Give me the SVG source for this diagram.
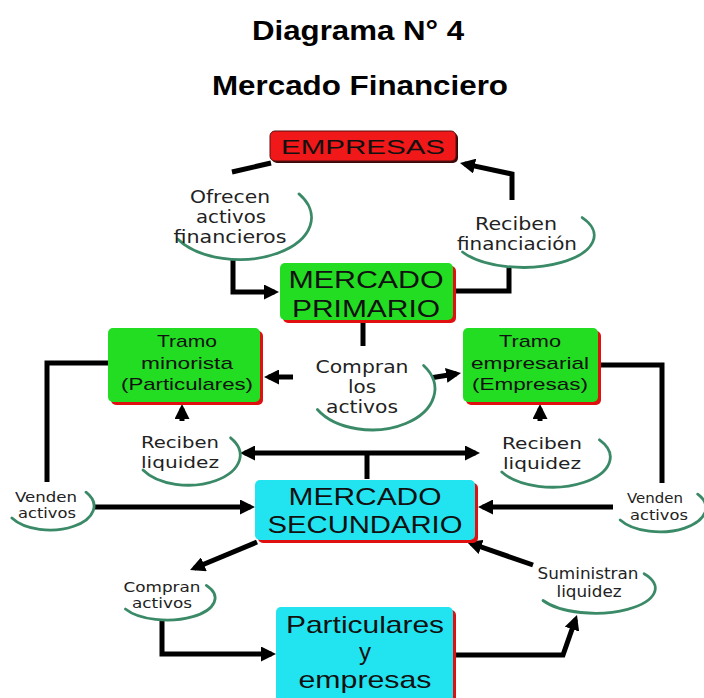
<svg xmlns="http://www.w3.org/2000/svg" width="704" height="698" viewBox="0 0 704 698">
<defs>
<marker id="ah" viewBox="0 0 10 10" refX="7" refY="5" markerWidth="3" markerHeight="3" orient="auto"><path d="M0,0 L10,5 L0,10 z" fill="#000"/></marker>
<marker id="ahs" viewBox="0 0 10 10" refX="7" refY="5" markerWidth="3" markerHeight="3" orient="auto-start-reverse"><path d="M0,0 L10,5 L0,10 z" fill="#000"/></marker>
</defs>
<style>
.title{font-family:"Liberation Sans",Arial,sans-serif;font-weight:bold;font-size:28px;fill:#000;text-anchor:middle}
.bx{font-family:"Liberation Sans",Arial,sans-serif;fill:#111;text-anchor:middle}
.bt{font-family:"DejaVu Sans",Verdana,sans-serif;fill:#222;text-anchor:middle}
.con{fill:none;stroke:#000;stroke-width:5;stroke-linejoin:miter}
.arc{fill:none;stroke:#3a8a68;stroke-width:2.8;stroke-linecap:round}
.bub{fill:#fff}
.sh{fill:#e01010}
</style>
<rect width="704" height="698" fill="#fff"/>
<text class="title" x="358" y="40" textLength="212" lengthAdjust="spacingAndGlyphs">Diagrama N° 4</text>
<text class="title" x="360" y="95" textLength="296" lengthAdjust="spacingAndGlyphs">Mercado Financiero</text>

<g id="connectors">
<path class="con" d="M232,172 L271,163"/>
<path class="con" d="M233,260 V292 H274.5" marker-end="url(#ah)"/>
<path class="con" d="M455,291 H509 V268"/>
<path class="con" d="M512,200 V174 L464.4,163.9" marker-end="url(#ah)"/>
<path class="con" d="M363,322 V346"/>
<path class="con" d="M293,377 H268.5" marker-end="url(#ah)"/>
<path class="con" d="M430,378 L456.6,373.7" marker-end="url(#ah)"/>
<path class="con" d="M182,421 V408.5" marker-end="url(#ah)"/>
<path class="con" d="M540,421 V408.5" marker-end="url(#ah)"/>
<path class="con" d="M244.5,453 H475.5" marker-start="url(#ahs)" marker-end="url(#ah)"/>
<path class="con" d="M367,453 V479"/>
<path class="con" d="M108,363 H47 V482"/>
<path class="con" d="M93,507 H250.5" marker-end="url(#ah)"/>
<path class="con" d="M601,365 H662 V483"/>
<path class="con" d="M613,507 H482.5" marker-end="url(#ah)"/>
<path class="con" d="M257,542 L194.2,568.3" marker-end="url(#ah)"/>
<path class="con" d="M162,620 V654 H271.5" marker-end="url(#ah)"/>
<path class="con" d="M456,655 H563 L575.5,619.2" marker-end="url(#ah)"/>
<path class="con" d="M533,565 L471.2,543.5" marker-end="url(#ah)"/>
</g>

<g id="empresas">
<rect x="272" y="133" width="186" height="30" rx="5" fill="#3a0808"/>
<rect x="270" y="131" width="186" height="30" rx="5" fill="#f01818" stroke="#5a1010" stroke-width="1"/>
<text class="bx" x="363" y="154" font-size="21" fill="#2a0808" textLength="164" lengthAdjust="spacingAndGlyphs">EMPRESAS</text>
</g>

<g id="mercado-primario">
<rect class="sh" x="283" y="266" width="173" height="57" rx="5"/>
<rect x="280" y="263" width="173" height="57" rx="5" fill="#22dd22"/>
<text class="bx" x="366" y="288" font-size="24" textLength="155" lengthAdjust="spacingAndGlyphs">MERCADO</text>
<text class="bx" x="366" y="317" font-size="24" textLength="148" lengthAdjust="spacingAndGlyphs">PRIMARIO</text>
</g>

<g id="tramo-minorista">
<rect class="sh" x="111" y="331" width="152" height="74" rx="5"/>
<rect x="108" y="328" width="152" height="74" rx="5" fill="#22dd22"/>
<text class="bx" x="187" y="347" font-size="17" textLength="60" lengthAdjust="spacingAndGlyphs">Tramo</text>
<text class="bx" x="187" y="369" font-size="17" textLength="92" lengthAdjust="spacingAndGlyphs">minorista</text>
<text class="bx" x="187" y="390" font-size="17" textLength="132" lengthAdjust="spacingAndGlyphs">(Particulares)</text>
</g>

<g id="tramo-empresarial">
<rect class="sh" x="466" y="331" width="135" height="74" rx="5"/>
<rect x="463" y="328" width="135" height="74" rx="5" fill="#22dd22"/>
<text class="bx" x="530" y="347" font-size="17" textLength="62" lengthAdjust="spacingAndGlyphs">Tramo</text>
<text class="bx" x="530" y="369" font-size="17" textLength="118" lengthAdjust="spacingAndGlyphs">empresarial</text>
<text class="bx" x="530" y="390" font-size="17" textLength="116" lengthAdjust="spacingAndGlyphs">(Empresas)</text>
</g>

<g id="mercado-secundario">
<rect class="sh" x="258" y="483" width="220" height="60" rx="5"/>
<rect x="255" y="480" width="220" height="60" rx="5" fill="#22e4f0"/>
<text class="bx" x="365" y="505" font-size="24" fill="#0a2428" textLength="153" lengthAdjust="spacingAndGlyphs">MERCADO</text>
<text class="bx" x="365" y="533" font-size="24" fill="#0a2428" textLength="195" lengthAdjust="spacingAndGlyphs">SECUNDARIO</text>
</g>

<g id="particulares-empresas">
<rect class="sh" x="279" y="610" width="177" height="100" rx="5"/>
<rect x="276" y="607" width="177" height="100" rx="5" fill="#22e4f0"/>
<text class="bx" x="365" y="633" font-size="24" fill="#0a2428" textLength="158" lengthAdjust="spacingAndGlyphs">Particulares</text>
<text class="bx" x="365" y="660" font-size="24" fill="#0a2428">y</text>
<text class="bx" x="365" y="688" font-size="24" fill="#0a2428" textLength="133" lengthAdjust="spacingAndGlyphs">empresas</text>
</g>

<g id="ofrecen">
<ellipse class="bub" cx="240" cy="218" rx="72" ry="42"/>
<path class="arc" d="M299,193.9 A72,42 0 1 1 177.6,239"/>
<text class="bt" x="230" y="203" font-size="18" textLength="80" lengthAdjust="spacingAndGlyphs">Ofrecen</text>
<text class="bt" x="231" y="223" font-size="18" textLength="70" lengthAdjust="spacingAndGlyphs">activos</text>
<text class="bt" x="230" y="243" font-size="18" textLength="113" lengthAdjust="spacingAndGlyphs">financieros</text>
</g>

<g id="reciben-financiacion">
<ellipse class="bub" cx="524" cy="236" rx="71" ry="32"/>
<path class="arc" d="M582.2,217.6 A71,32 0 1 1 462.5,252"/>
<text class="bt" x="516" y="230" font-size="18" textLength="82" lengthAdjust="spacingAndGlyphs">Reciben</text>
<text class="bt" x="517" y="250" font-size="18" textLength="120" lengthAdjust="spacingAndGlyphs">financiación</text>
</g>

<g id="compran-los-activos">
<ellipse class="bub" cx="372" cy="389" rx="63" ry="41"/>
<path class="arc" d="M423.6,365.5 A63,41 0 1 1 317.4,409.5"/>
<text class="bt" x="362" y="373" font-size="18" textLength="93" lengthAdjust="spacingAndGlyphs">Compran</text>
<text class="bt" x="362" y="393" font-size="18" textLength="28" lengthAdjust="spacingAndGlyphs">los</text>
<text class="bt" x="362" y="413" font-size="18" textLength="72" lengthAdjust="spacingAndGlyphs">activos</text>
</g>

<g id="reciben-liquidez-1">
<ellipse class="bub" cx="188" cy="455" rx="52" ry="30"/>
<path class="arc" d="M230.6,437.8 A52,30 0 1 1 143,470"/>
<text class="bt" x="180" y="448" font-size="16" textLength="78" lengthAdjust="spacingAndGlyphs">Reciben</text>
<text class="bt" x="180" y="468" font-size="16" textLength="78" lengthAdjust="spacingAndGlyphs">liquidez</text>
</g>

<g id="reciben-liquidez-2">
<ellipse class="bub" cx="552" cy="457" rx="58" ry="30"/>
<path class="arc" d="M599.5,439.8 A58,30 0 1 1 501.8,472"/>
<text class="bt" x="542" y="449" font-size="16" textLength="80" lengthAdjust="spacingAndGlyphs">Reciben</text>
<text class="bt" x="542" y="469" font-size="16" textLength="78" lengthAdjust="spacingAndGlyphs">liquidez</text>
</g>

<g id="venden-activos-1">
<ellipse class="bub" cx="50" cy="506" rx="44" ry="24"/>
<path class="arc" d="M86,492.2 A44,24 0 1 1 11.9,518"/>
<text class="bt" x="46" y="502" font-size="14" textLength="62" lengthAdjust="spacingAndGlyphs">Venden</text>
<text class="bt" x="47" y="518" font-size="14" textLength="58" lengthAdjust="spacingAndGlyphs">activos</text>
</g>

<g id="venden-activos-2">
<ellipse class="bub" cx="660" cy="508" rx="46" ry="24"/>
<path class="arc" d="M697.7,494.2 A46,24 0 1 1 620.2,520"/>
<text class="bt" x="655" y="503" font-size="14" textLength="56" lengthAdjust="spacingAndGlyphs">Venden</text>
<text class="bt" x="659" y="520" font-size="14" textLength="58" lengthAdjust="spacingAndGlyphs">activos</text>
</g>

<g id="compran-activos">
<ellipse class="bub" cx="167" cy="598" rx="48" ry="22"/>
<path class="arc" d="M206.3,585.4 A48,22 0 1 1 125.4,609"/>
<text class="bt" x="162" y="592" font-size="14" textLength="77" lengthAdjust="spacingAndGlyphs">Compran</text>
<text class="bt" x="162" y="608" font-size="14" textLength="60" lengthAdjust="spacingAndGlyphs">activos</text>
</g>

<g id="suministran-liquidez">
<ellipse class="bub" cx="595" cy="588" rx="60" ry="25"/>
<path class="arc" d="M644.1,573.7 A60,25 0 1 1 543,600.5"/>
<text class="bt" x="588" y="579" font-size="15" textLength="101" lengthAdjust="spacingAndGlyphs">Suministran</text>
<text class="bt" x="589" y="597" font-size="15" textLength="65" lengthAdjust="spacingAndGlyphs">liquidez</text>
</g>
</svg>
